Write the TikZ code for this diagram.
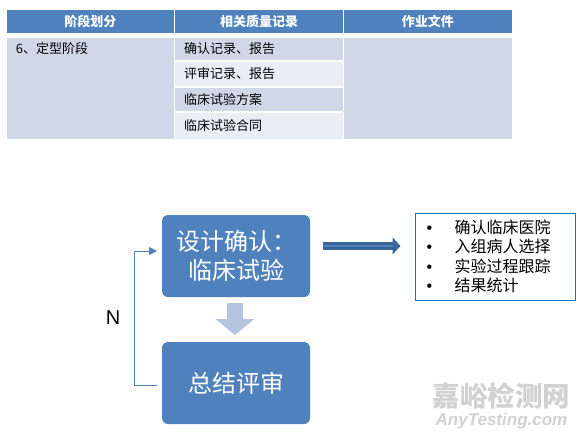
\documentclass[tikz,border=0pt]{standalone}
\usepackage{fontspec}
\setmainfont{Noto Sans CJK SC}
\newfontfamily\latinfont{Liberation Sans}
\usepackage{tikz}
\usetikzlibrary{arrows.meta, positioning}
\definecolor{headBlue}{HTML}{4F81BD}
\definecolor{rowDark}{HTML}{D0D8E8}
\definecolor{rowLight}{HTML}{E9EDF4}
\definecolor{fatArrow}{HTML}{B5C4DE}
\definecolor{darkArrow}{HTML}{3A6595}
\definecolor{infoLine}{HTML}{0A7ABF}
\newcommand{\infoItem}[1]{\makebox[28pt][l]{\latinfont\textbullet}#1}

\begin{document}
\begin{tikzpicture}[
        x=1pt, y=-1pt,
        node distance=2pt and 1pt,
        every node/.style={outer sep=0pt},
        headCell/.style={
            rectangle, fill=headBlue, text=white, minimum width=167.7pt, minimum height=23pt,
            inner sep=0pt, font=\fontsize{13}{15}\selectfont\bfseries
        },
        spanCell/.style={
            rectangle, fill=rowDark, text width=148.7pt, inner xsep=9.5pt, inner ysep=5pt,
            text height=10pt, text depth=81pt, align=left, font=\fontsize{13}{15}\selectfont
        },
        rowCell/.style={
            rectangle, text width=149.7pt, inner xsep=9pt, inner ysep=0pt, align=left,
            font=\fontsize{13}{15}\selectfont
        },
        flowBox/.style={
            rectangle, rounded corners=6pt, fill=headBlue, text=white, minimum width=148pt,
            minimum height=82pt, inner sep=0pt, align=center,
            font=\fontsize{24}{29}\selectfont
        },
        infoBox/.style={
            rectangle, draw=infoLine, line width=0.8pt, text width=138pt, minimum height=87pt,
            inner xsep=11pt, inner ysep=0pt, align=left, font=\fontsize{16}{19.3}\selectfont
        },
        loopArrow/.style={
            draw=headBlue, line width=0.9pt, -{Triangle[length=8pt,width=8pt]},
            shorten <=5pt, shorten >=5pt
        },
        fatDown/.style={
            draw=fatArrow, line width=16pt, -{Triangle[length=16pt,width=38pt]},
            shorten <=6pt, shorten >=7pt
        },
        fatRight/.style={
            draw=darkArrow, line width=8pt, -{Triangle[length=8pt,width=17pt]},
            shorten <=13pt, shorten >=15pt
        },
        fatRightCore/.style={
            draw=headBlue, line width=2.5pt, shorten <=13pt, shorten >=23pt
        }
    ]
        \useasboundingbox (0,0) rectangle (583,436);

        % Table
        \node (headStage) [headCell, anchor=north west] at (6.5,10) {阶段划分};
        \node (headRecord) [headCell, right=of headStage] {相关质量记录};
        \node (headFile) [headCell, right=of headRecord] {作业文件};

        \node (cellStage) [spanCell, anchor=north west] at (6.5,38) {6、定型阶段};
        \node (rowConfirm) [rowCell, fill=rowDark, minimum height=22pt, anchor=north west] at (175.2,38) {确认记录、报告};
        \node (rowReview) [rowCell, fill=rowLight, minimum height=24pt, below=of rowConfirm] {评审记录、报告};
        \node (rowPlan) [rowCell, fill=rowDark, minimum height=23pt, below=of rowReview] {临床试验方案};
        \node (rowContract) [rowCell, fill=rowLight, minimum height=26pt, below=of rowPlan] {临床试验合同};
        \node (cellFile) [spanCell, anchor=north west] at (343.9,38) {};

        % Flow
        \node (confirmBox) [flowBox, anchor=north west] at (162,215) {设计确认：\\临床试验};
        \node (summaryBox) [flowBox, below=45pt of confirmBox] {总结评审};
        \node (infoList) [infoBox, anchor=north west] at (415.5,213) {\infoItem{确认临床医院}\\\infoItem{入组病人选择}\\\infoItem{实验过程跟踪}\\\infoItem{结果统计}};
        \node (loopLabel) [font=\latinfont\fontsize{20}{22}\selectfont] at (113,318) {N};

        % Watermark
        \node (markCn) [text=black!18, font=\fontsize{27.5}{30}\selectfont\bfseries] at (501.5,396) {嘉峪检测网};
        \node (markEn) [text=black!18, font=\latinfont\fontsize{17}{19}\selectfont\bfseries\itshape, below=-3pt of markCn] {AnyTesting.com};

        % Arrows
        \draw [fatDown] ([xshift=-1pt]confirmBox.south) -- ([xshift=-1pt]summaryBox.north);
        \draw [fatRight] ([yshift=10pt]confirmBox.east) -- ([yshift=10.5pt]infoList.west);
        \draw [fatRightCore] ([yshift=10pt]confirmBox.east) -- ([yshift=10.5pt]infoList.west);
        \draw [loopArrow] ([yshift=-2pt]summaryBox.west) -- ++(-28,0) |- ([yshift=5pt]confirmBox.west);
    \end{tikzpicture}
\end{document}
